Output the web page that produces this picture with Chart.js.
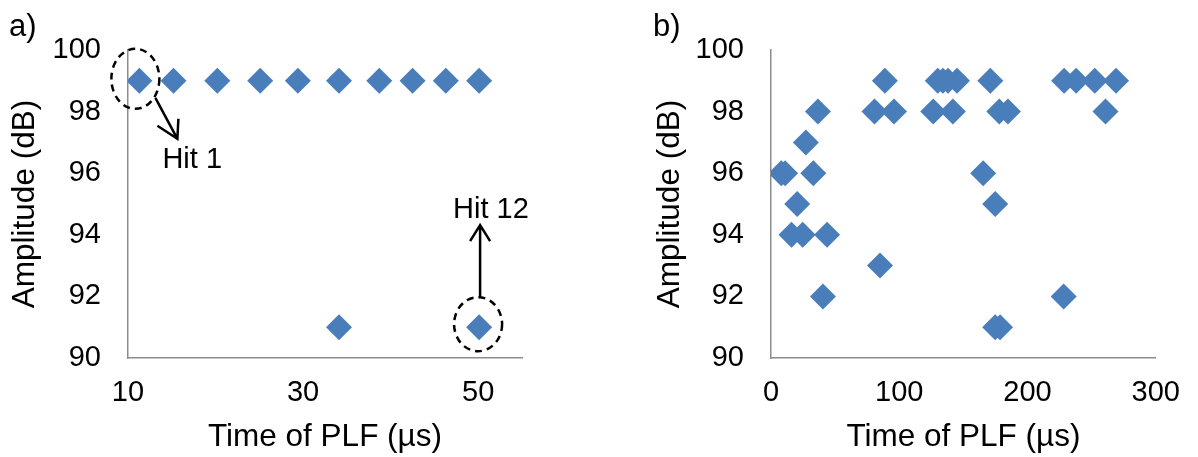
<!DOCTYPE html>
<html>
<head>
<meta charset="utf-8">
<script src="https://cdn.jsdelivr.net/npm/chart.js@4"></script>
<style>
  body { margin: 0; background: #fff; }
  .wrap { position: relative; width: 1198px; height: 457px; overflow: hidden; }
  canvas { position: absolute; top: 0; }
  .panel { position: absolute; top: 8px; font: 31px "Liberation Sans", Arial, sans-serif; color: #000; }
</style>
</head>
<body>
<div class="wrap">
  <canvas id="chartA" width="600" height="457" style="left:0"></canvas>
  <canvas id="chartB" width="553" height="457" style="left:645px"></canvas>
  <div class="panel" style="left:9px">a)</div>
  <div class="panel" style="left:653px">b)</div>
</div>
<script>
// panel a) : hits from one source
var timeA = [11.3, 15.2, 20.2, 25.1, 29.4, 34.1, 34.1, 38.7, 42.5, 46.3, 50.1, 50.1];
var ampA = [99, 99, 99, 99, 99, 99, 91, 99, 99, 99, 99, 91];

// panel b) : all hits
var timeB = [8, 11, 16, 20.4, 24.7, 27.2, 33, 36.6, 40.5, 43.7, 80.7, 85, 88.8, 95.9,
  126.5, 130, 134, 138, 141.8, 145, 165.4, 171, 174.8, 174.8, 178, 178.6, 184.7,
  228.2, 228.5, 237.9, 252.4, 260.8, 269];
var ampB = [96, 96, 94, 95, 94, 97, 96, 98, 92, 94, 98, 93, 99, 98,
  98, 99, 99, 99, 98, 99, 96, 99, 95, 91, 98, 91, 98,
  92, 99, 99, 99, 98, 99];

var xTicksA = [10, 30, 50];
var xTicksB = [0, 100, 200, 300];
var yTicks = [90, 92, 94, 96, 98, 100];

var blue = "#4a7ebb";
var axisGrey = "#8c8c8c";
var fontName = "'Liberation Sans', Arial, sans-serif";

function toPoints(xs, ys) {
  return xs.map(function (x, i) { return { x: x, y: ys[i] }; });
}

function makeOptions(xMin, xMax, xTicks, yWidth, padRight) {
  return {
    responsive: false,
    animation: false,
    layout: { padding: { top: 50, right: padRight, bottom: 0, left: 0 } },
    plugins: { legend: { display: false }, tooltip: { enabled: false } },
    scales: {
      x: {
        type: "linear",
        min: xMin,
        max: xMax,
        afterBuildTicks: function (s) { s.ticks = xTicks.map(function (v) { return { value: v }; }); },
        afterFit: function (s) { s.height = 99; },
        grid: { display: false, drawTicks: false },
        border: { color: axisGrey, width: 1.5 },
        ticks: { padding: 18, color: "#000", font: { family: fontName, size: 29 } },
        title: {
          display: true,
          text: "Time of PLF (µs)",
          color: "#000",
          padding: { top: 0, bottom: 1 },
          font: { family: fontName, size: 31.5 }
        }
      },
      y: {
        min: 90,
        max: 100,
        afterBuildTicks: function (s) { s.ticks = yTicks.map(function (v) { return { value: v }; }); },
        afterFit: function (s) { s.width = yWidth; },
        grid: { display: false, drawTicks: false },
        border: { color: axisGrey, width: 1.5 },
        ticks: { padding: 27, color: "#000", font: { family: fontName, size: 29 } },
        title: {
          display: true,
          text: "Amplitude (dB)",
          color: "#000",
          padding: { top: 6, bottom: 0 },
          font: { family: fontName, size: 31.5 }
        }
      }
    }
  };
}

function dataset(xs, ys) {
  return {
    data: toPoints(xs, ys),
    showLine: false,
    pointStyle: "rectRot",
    pointRadius: 13,
    pointHoverRadius: 13,
    pointBorderWidth: 0,
    backgroundColor: blue,
    borderColor: blue
  };
}

// dashed circles, arrows and the "Hit" notes on panel a)
var hitNotes = {
  id: "hitNotes",
  afterDatasetsDraw: function (chart) {
    var ctx = chart.ctx;
    var sx = chart.scales.x, sy = chart.scales.y;
    var first = { x: sx.getPixelForValue(timeA[0]), y: sy.getPixelForValue(ampA[0]) };
    var last = { x: sx.getPixelForValue(timeA[timeA.length - 1]), y: sy.getPixelForValue(ampA[ampA.length - 1]) };
    ctx.save();
    ctx.strokeStyle = "#000";
    ctx.fillStyle = "#000";
    ctx.lineWidth = 2.5;

    ctx.setLineDash([7, 5]);
    ctx.beginPath();
    ctx.ellipse(first.x - 4, first.y - 2, 24, 30, 0, 0, Math.PI * 2);
    ctx.stroke();
    ctx.beginPath();
    ctx.ellipse(last.x - 1, last.y - 3, 24, 27, 0, 0, Math.PI * 2);
    ctx.stroke();
    ctx.setLineDash([]);

    // arrow for Hit 1
    var t1 = { x: first.x + 38, y: first.y + 58 };
    ctx.beginPath();
    ctx.moveTo(first.x + 16, first.y + 17);
    ctx.lineTo(t1.x, t1.y);
    ctx.moveTo(t1.x - 20, t1.y - 13);
    ctx.lineTo(t1.x, t1.y);
    ctx.lineTo(t1.x + 1, t1.y - 20);
    ctx.stroke();

    // arrow for Hit 12
    var t2 = { x: last.x + 1, y: last.y - 102 };
    ctx.beginPath();
    ctx.moveTo(t2.x, last.y - 30);
    ctx.lineTo(t2.x, t2.y);
    ctx.moveTo(t2.x - 10, t2.y + 16);
    ctx.lineTo(t2.x, t2.y);
    ctx.lineTo(t2.x + 10, t2.y + 16);
    ctx.stroke();

    ctx.font = "29px " + fontName;
    ctx.textBaseline = "alphabetic";
    ctx.textAlign = "left";
    ctx.fillText("Hit 1", first.x + 23, first.y + 87);
    ctx.fillText("Hit 12", last.x - 26, last.y - 109);
    ctx.restore();
  }
};

new Chart(document.getElementById("chartA"), {
  type: "scatter",
  data: { datasets: [dataset(timeA, ampA)] },
  options: makeOptions(10, 55, xTicksA, 128, 78),
  plugins: [hitNotes]
});

new Chart(document.getElementById("chartB"), {
  type: "scatter",
  data: { datasets: [dataset(timeB, ampB)] },
  options: makeOptions(0, 300, xTicksB, 126, 34)
});
</script>
</body>
</html>
